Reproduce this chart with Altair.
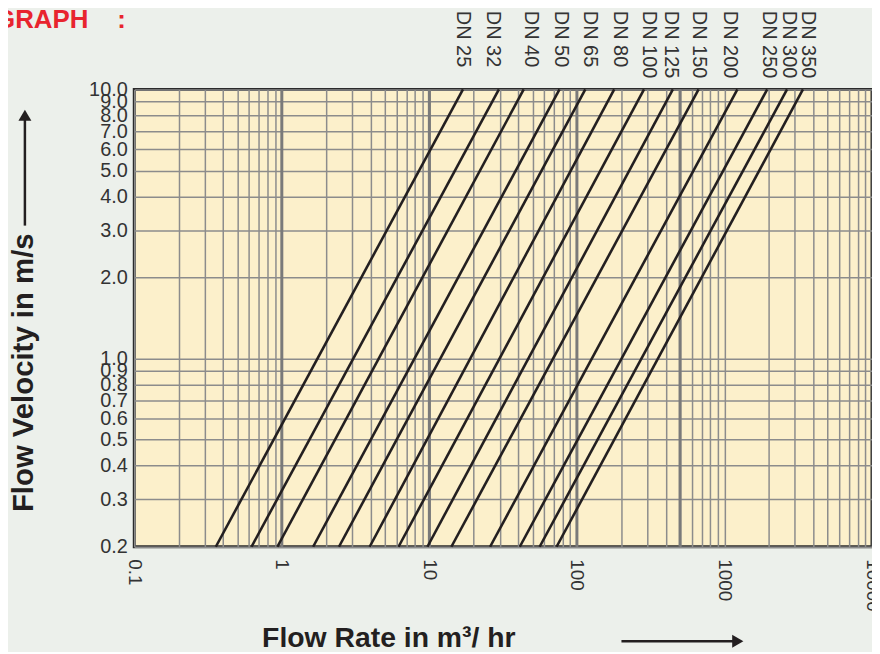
import altair as alt
import pandas as pd

# ---- data ----
dn_labels = ["DN 25", "DN 32", "DN 40", "DN 50", "DN 65", "DN 80", "DN 100",
             "DN 125", "DN 150", "DN 200", "DN 250", "DN 300", "DN 350"]
# flow rate (m3/hr) where each line meets v = 0.2 m/s (bottom) and v = 10 m/s (top)
q_at_vmin = [0.357, 0.623, 0.933, 1.63, 2.44, 3.94, 6.18, 9.70, 14.1, 25.8, 41.0, 55.9, 72.8]
q_at_vmax = [16.9, 29.6, 43.6, 76.2, 114, 179, 285, 447, 668, 1224, 1949, 2656, 3404]
v_min, v_max = 0.2, 10.0
# horizontal position (flow rate) of the DN labels above the plot
label_q = [16.9, 27.0, 48.6, 77.4, 123, 196, 308, 433, 668, 1097, 2009, 2740, 3680]

x_label_values = [0.1, 1, 10, 100, 1000, 10000]
x_grid_values = [round(k * 10.0 ** e, 4) for e in range(-1, 4) for k in range(1, 10)] + [10000]
heavy_x = [1, 10, 100, 500]
y_values = [0.2, 0.3, 0.4, 0.5, 0.6, 0.7, 0.8, 0.9, 1.0,
            2.0, 3.0, 4.0, 5.0, 6.0, 7.0, 8.0, 9.0, 10.0]

FONT = "Liberation Sans"
INK = "#231f20"
TXT = "#333333"
GRID = "#8c8c8c"

rows = []
for name, qa, qb in zip(dn_labels, q_at_vmin, q_at_vmax):
    rows.append({"dn": name, "q": qa, "v": v_min})
    rows.append({"dn": name, "q": qb, "v": v_max})
lines_df = pd.DataFrame(rows)
labels_df = pd.DataFrame({"dn": dn_labels, "q": label_q})
heavy_df = pd.DataFrame({"q": heavy_x})

x_scale = alt.Scale(type="log", domain=[0.1, 10000], nice=False)
y_scale = alt.Scale(type="log", domain=[0.2, 10], nice=False)

label_list = ",".join(str(v) for v in x_label_values)
x_axis = alt.Axis(
    values=x_grid_values, format="~g",
    labelExpr=f"indexof([{label_list}], datum.value) >= 0 ? datum.label : ''",
    labelAngle=90, labelFontSize=19, labelFont=FONT, labelColor=TXT,
    labelPadding=12, labelOverlap=False, labelFlush=False, labelBound=False,
    ticks=False, domain=False, grid=True, gridColor=GRID, gridWidth=1.5,
    gridOpacity=1, title=None,
)
y_axis = alt.Axis(
    values=y_values, format=".1f",
    labelFontSize=20, labelFont=FONT, labelColor=TXT, labelPadding=7,
    labelOverlap=False, labelFlush=False, labelBound=False,
    ticks=False, domain=False, grid=True, gridColor=GRID, gridWidth=1.5,
    gridOpacity=1, title=None,
)

X = alt.X("q:Q", scale=x_scale, axis=x_axis)

heavy = alt.Chart(heavy_df).mark_rule(color="#7a7a7a", strokeWidth=3).encode(x=X)

lines = alt.Chart(lines_df).mark_line(color=INK, strokeWidth=2.6).encode(
    x=X,
    y=alt.Y("v:Q", scale=y_scale, axis=y_axis),
    detail="dn:N",
)

dn_text = alt.Chart(labels_df).mark_text(
    angle=90, align="left", baseline="middle", fontSize=20, font=FONT, color=TXT
).encode(x=X, y=alt.value(-79), text="dn:N")

one = pd.DataFrame({"t": ["Flow Rate in m\u00b3/ hr"]})
x_title = alt.Chart(one).mark_text(
    fontSize=28.5, fontWeight="bold", font=FONT, color=INK, align="center", baseline="middle"
).encode(x=alt.value(256), y=alt.value(552), text="t:N")

one_y = pd.DataFrame({"t": ["Flow Velocity in m/s"]})
y_title = alt.Chart(one_y).mark_text(
    fontSize=29.5, fontWeight="bold", font=FONT, color=INK, angle=270,
    align="center", baseline="middle"
).encode(x=alt.value(-111), y=alt.value(285), text="t:N")

one_g = pd.DataFrame({"t": ["GRAPH\u00a0\u00a0\u00a0\u00a0:"]})
graph_title = alt.Chart(one_g).mark_text(
    fontSize=26, fontWeight="bold", font=FONT, color="#e8242e",
    align="left", baseline="alphabetic"
).encode(x=alt.value(-140), y=alt.value(-62), text="t:N")

arrow_df = pd.DataFrame({"a": [1]})
x_arrow_line = alt.Chart(arrow_df).mark_rule(color=INK, strokeWidth=2.5).encode(
    x=alt.value(490), x2=alt.value(604), y=alt.value(555))
x_arrow_head = alt.Chart(arrow_df).mark_point(
    shape="triangle-right", filled=True, size=170, color=INK, opacity=1
).encode(x=alt.value(607), y=alt.value(555))
y_arrow_line = alt.Chart(arrow_df).mark_rule(color=INK, strokeWidth=2.5).encode(
    x=alt.value(-110), y=alt.value(137), y2=alt.value(30))
y_arrow_head = alt.Chart(arrow_df).mark_point(
    shape="triangle-up", filled=True, size=170, color=INK, opacity=1
).encode(x=alt.value(-110), y=alt.value(26))

chart = alt.layer(
    heavy, lines, dn_text, x_title, y_title, graph_title,
    x_arrow_line, x_arrow_head, y_arrow_line, y_arrow_head,
).properties(
    width=742, height=460,
    background="#ecf0eb",
    autosize=alt.AutoSizeParams(type="none"),
    padding={"left": 127, "top": 80, "right": 0, "bottom": 104},
).configure_view(
    fill="#fcf0cb", stroke="#2b2b2b", strokeWidth=3
)

chart.save("out.html", embed_options={"renderer": "svg", "actions": False})
